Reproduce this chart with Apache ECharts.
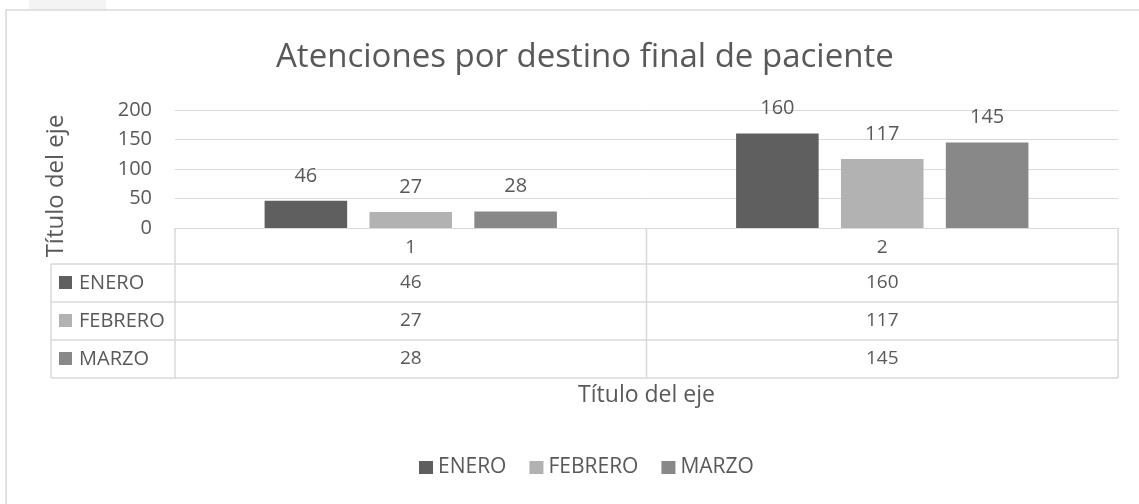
<!DOCTYPE html>
<html>
<head>
<meta charset="utf-8">
<script src="https://cdn.jsdelivr.net/npm/echarts@6/dist/echarts.min.js"></script>
<style>
  html, body { margin: 0; padding: 0; background: #fff; }
  #main { width: 1139px; height: 504px; }
</style>
</head>
<body>
<div id="main"></div>
<script>
// datos del grafico
const categories = ["1", "2"];
const seriesNames = ["ENERO", "FEBRERO", "MARZO"];
const enero = [46, 160];
const febrero = [27, 117];
const marzo = [28, 145];
const colors = ["#5f5f5f", "#b2b2b2", "#888888"];

const FONT = "Open Sans";
const TXT = "#595959";
const LINE = "#d9d9d9";

const chart = echarts.init(document.getElementById("main"));
const values = [enero, febrero, marzo];

chart.setOption({
  animation: false,
  textStyle: { fontFamily: FONT, color: TXT },
  title: {
    text: "Atenciones por destino final de paciente",
    left: 271,
    top: 36,
    textStyle: { fontFamily: FONT, fontSize: 33, fontWeight: "normal", color: TXT },
  },
  legend: {
    data: seriesNames,
    bottom: 21,
    left: 414,
    icon: "rect",
    itemWidth: 14,
    itemHeight: 13,
    itemGap: 23,
    textStyle: { fontFamily: FONT, fontSize: 21, color: TXT },
  },
  grid: { left: 175, right: 21, top: 110, bottom: 276 },
  xAxis: {
    type: "category",
    data: categories,
    axisLine: { lineStyle: { color: LINE } },
    axisTick: { show: false },
    axisLabel: { fontFamily: FONT, fontSize: 19, color: TXT, margin: 10 },
  },
  yAxis: {
    type: "value",
    min: 0,
    max: 200,
    interval: 50,
    axisLine: { show: false },
    axisTick: { show: false },
    axisLabel: { fontFamily: FONT, fontSize: 20, color: TXT, margin: 23 },
    splitLine: { lineStyle: { color: LINE } },
  },
  series: seriesNames.map((name, i) => ({
    name: name,
    type: "bar",
    data: values[i],
    barGap: "27%",
    barCategoryGap: "38%",
    itemStyle: { color: colors[i] },
    label: {
      show: true,
      position: "top",
      distance: 15,
      fontFamily: FONT,
      fontSize: 20,
      color: TXT,
    },
  })),
});

/**
 * tabla de datos debajo del eje
 */
function drawTable() {
  const x0 = chart.convertToPixel({ xAxisIndex: 0 }, 0);
  const x1 = chart.convertToPixel({ xAxisIndex: 0 }, 1);
  const step = x1 - x0;
  const left = x0 - step / 2;
  const right = x1 + step / 2;
  const top = chart.convertToPixel({ yAxisIndex: 0 }, 0);
  const headH = 36;
  const rowH = 38;
  const labelLeft = 51;
  const bottom = top + headH + rowH * seriesNames.length;
  const els = [];
  const line = (ax, ay, bx, by) =>
    els.push({ type: "line", shape: { x1: ax, y1: ay, x2: bx, y2: by }, style: { stroke: LINE, lineWidth: 1.5 }, silent: true });

  // borde del grafico
  els.push({ type: "rect", shape: { x: 29, y: 0, width: 77, height: 9 }, style: { fill: "#f4f4f4" }, silent: true });
  els.push({ type: "rect", shape: { x: 6, y: 10, width: 1150, height: 520 }, style: { fill: null, stroke: LINE, lineWidth: 1.5 }, silent: true });

  // lineas verticales
  line(left, top, left, bottom);
  line(left + step, top, left + step, bottom);
  line(right, top, right, bottom);
  line(labelLeft, top + headH, labelLeft, bottom);
  // lineas horizontales
  for (let r = 0; r <= seriesNames.length; r++) {
    const y = top + headH + r * rowH;
    line(labelLeft, y, right, y);
  }
  seriesNames.forEach((name, r) => {
    const cy = top + headH + r * rowH + rowH / 2;
    els.push({ type: "rect", shape: { x: labelLeft + 8, y: cy - 7, width: 13, height: 13 }, style: { fill: colors[r] }, silent: true });
    els.push({ type: "text", x: labelLeft + 28, y: cy, style: { text: name, fill: TXT, font: "20px " + FONT, textVerticalAlign: "middle" }, silent: true });
    values[r].forEach((v, c) => {
      const cx = chart.convertToPixel({ xAxisIndex: 0 }, c);
      els.push({ type: "text", x: cx, y: cy, style: { text: String(v), fill: TXT, font: "19px " + FONT, textAlign: "center", textVerticalAlign: "middle" }, silent: true });
    });
  });
  // titulos de ejes
  els.push({ type: "text", x: (left + right) / 2, y: bottom + 17, style: { text: "Título del eje", fill: TXT, font: "23px " + FONT, textAlign: "center", textVerticalAlign: "middle" }, silent: true });
  els.push({ type: "text", x: 56, y: 186, rotation: Math.PI / 2, style: { text: "Título del eje", fill: TXT, font: "24px " + FONT, textAlign: "center", textVerticalAlign: "middle" }, silent: true });
  chart.setOption({ graphic: els });
}
drawTable();
</script>
</body>
</html>
